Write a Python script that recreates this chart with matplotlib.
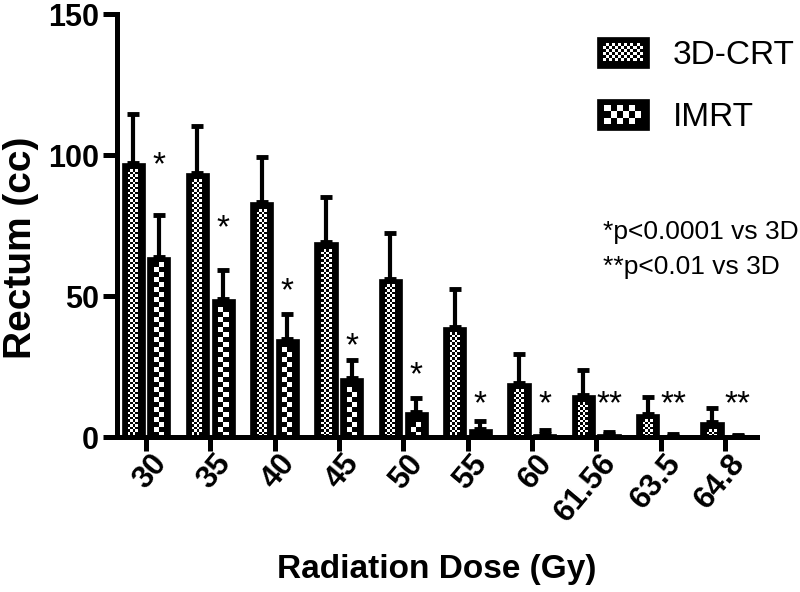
import numpy as np
import matplotlib
matplotlib.use("Agg")
import matplotlib.pyplot as plt
import matplotlib.transforms as mtransforms
from matplotlib.patches import Patch, Rectangle
from matplotlib.legend_handler import HandlerBase

plt.rcParams["font.family"] = ["Liberation Sans", "DejaVu Sans"]

# Data
doses = ["30", "35", "40", "45", "50", "55", "60", "61.56", "63.5", "64.8"]
crt_mean = [97.3, 93.5, 83.2, 69.0, 55.9, 39.1, 19.0, 14.9, 8.0, 5.2]
crt_sd = [17.1, 16.8, 16.2, 16.2, 16.3, 13.4, 10.4, 8.9, 6.2, 5.2]
imrt_mean = [63.9, 48.8, 34.9, 21.1, 8.8, 2.8, 1.2, 1.0, 0.5, 0.4]
imrt_sd = [14.7, 10.4, 8.6, 6.2, 5.0, 2.9, 1.3, 0.9, 0.5, 0.3]
stars = ["*", "*", "*", "*", "*", "*", "*", "**", "**", "**"]
star_y = [98.6, 76.3, 53.9, 34.4, 24.1, 13.9, 13.9, 13.9, 13.9, 13.9]


def checker(nrows, ncols):
    return (np.indices((nrows, ncols)).sum(axis=0) % 2).astype(float)


class CheckerHandler(HandlerBase):
    """Legend box: black rectangle with a checkerboard inside."""

    def __init__(self, sq, pad):
        super().__init__()
        self.sq = sq
        self.pad = pad

    def create_artists(self, legend, orig_handle, xdescent, ydescent, width, height, fontsize, trans):
        x0, y0 = -xdescent, -ydescent
        arts = [Rectangle((x0, y0), width, height, facecolor="black", edgecolor="black", lw=0.5, transform=trans)]
        nc = int((width - 2 * self.pad) // self.sq)
        nr = int((height - 2 * self.pad) // self.sq)
        ox = x0 + (width - nc * self.sq) / 2
        oy = y0 + (height - nr * self.sq) / 2
        for r in range(nr):
            for c in range(nc):
                if (r + c) % 2 == 0:
                    arts.append(Rectangle((ox + c * self.sq, oy + r * self.sq), self.sq, self.sq,
                                          facecolor="white", edgecolor="none", transform=trans))
        return arts


fig = plt.figure(figsize=(8, 5.92), dpi=100)
ax = fig.add_axes([0.14625, 0.2618, 0.8, 0.7145])

x = np.arange(len(doses))
w = 0.36
off = 0.2

ax.set_xlim(-0.45, 9.5)
ax.set_ylim(0, 150)

bars_crt = ax.bar(x - off, crt_mean, w, color="black", edgecolor="black", lw=0.5, zorder=2)
bars_imrt = ax.bar(x + off, imrt_mean, w, color="black", edgecolor="black", lw=0.5, zorder=2)

ax.errorbar(x - off, crt_mean, yerr=[np.zeros(len(x)), crt_sd], fmt="none", ecolor="black",
            elinewidth=3, capsize=4.5, capthick=3.5, zorder=1)
ax.errorbar(x + off, imrt_mean, yerr=[np.zeros(len(x)), imrt_sd], fmt="none", ecolor="black",
            elinewidth=3, capsize=4.5, capthick=3.5, zorder=1)

# pixel -> data conversion for the checker fill
fig.canvas.draw()
p0 = ax.transData.transform((0, 0))
p1 = ax.transData.transform((1, 1))
px_x = p1[0] - p0[0]
px_y = p1[1] - p0[1]


def fill_checker(bars, sq, ncols):
    for b in bars:
        bx, bw, bh = b.get_x(), b.get_width(), b.get_height()
        inner_w = ncols * sq
        pad_x = (bw * px_x - inner_w) / 2 / px_x
        nrows = int((bh * px_y - 5) // sq)
        if nrows < 1:
            continue
        ax.imshow(checker(nrows, ncols), cmap="gray", vmin=0, vmax=1, interpolation="nearest",
                  extent=[bx + pad_x, bx + bw - pad_x, 0, nrows * sq / px_y],
                  aspect="auto", origin="lower", zorder=2.2)


fill_checker(bars_crt, 2.5, 4)
fill_checker(bars_imrt, 5, 2)

for xi, s, sy in zip(x, stars, star_y):
    ax.annotate(s, (xi + off, sy), xytext=(0, -11), textcoords="offset points",
                ha="center", va="baseline", fontsize=24)

ax.set_xlim(-0.45, 9.5)
ax.set_ylim(0, 150)

for side in ["top", "right"]:
    ax.spines[side].set_visible(False)
for side in ["left", "bottom"]:
    ax.spines[side].set_linewidth(3.6)
    ax.spines[side].set_zorder(3)

ax.set_yticks([0, 50, 100, 150])
ax.set_xticks(x)
ax.set_xticklabels(doses, rotation=50, ha="right", va="center", rotation_mode="anchor")
ax.tick_params(axis="both", width=3.6, length=10, labelsize=22, pad=3)
ax.tick_params(axis="x", labelsize=22.5)
shift = mtransforms.ScaledTranslation(11 / 72, -2 / 72, fig.dpi_scale_trans)
for lab in ax.get_xticklabels():
    lab.set_fontweight("bold")
    lab.set_transform(lab.get_transform() + shift)
for lab in ax.get_yticklabels():
    lab.set_fontweight("bold")

ax.set_ylabel("Rectum (cc)", fontsize=28, fontweight="bold")
ax.yaxis.set_label_coords(-0.122, 0.447)
ax.set_xlabel("Radiation Dose (Gy)", fontsize=24, fontweight="bold")
ax.xaxis.set_label_coords(0.5, -0.277)

h_crt = Patch(facecolor="black")
h_imrt = Patch(facecolor="black")
ax.legend([h_crt, h_imrt], ["3D-CRT", "IMRT"], loc="upper right", bbox_to_anchor=(1.106, 1.017),
          frameon=False, fontsize=24, handlelength=1.55, handleheight=1.05, handletextpad=0.73,
          labelspacing=0.85,
          handler_map={h_crt: CheckerHandler(2.2, 4), h_imrt: CheckerHandler(4.4, 4)})

ax.text(0.759, 0.485, "*p<0.0001 vs 3D", transform=ax.transAxes, fontsize=19, va="center", ha="left")
ax.text(0.759, 0.402, "**p<0.01 vs 3D", transform=ax.transAxes, fontsize=19, va="center", ha="left")

fig.savefig("out.png", dpi=100, facecolor="white")
